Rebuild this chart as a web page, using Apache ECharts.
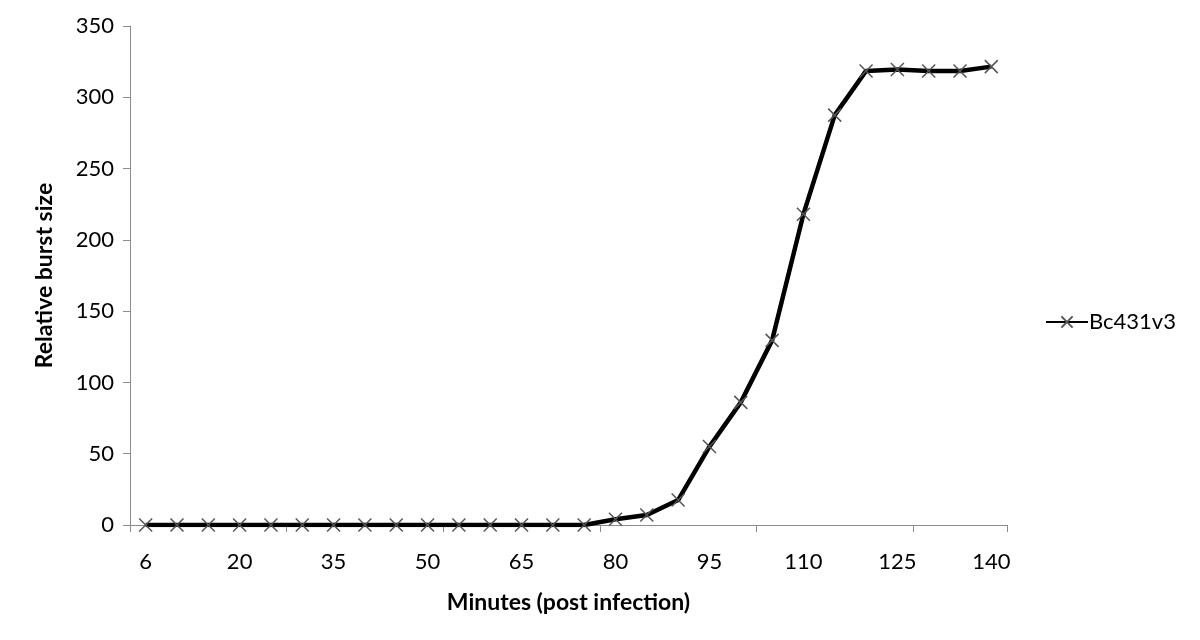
<!DOCTYPE html>
<html>
<head>
<meta charset="utf-8">
<script src="https://cdn.jsdelivr.net/npm/echarts@6/dist/echarts.min.js"></script>
<style>html,body{margin:0;padding:0;background:#fff}#c{width:1200px;height:640px}</style>
</head>
<body>
<div id="c"></div>
<script>
const minutes = [6,10,15,20,25,30,35,40,45,50,55,60,65,70,75,80,85,90,95,100,105,110,115,120,125,130,135,140];
const burstSize = [0,0,0,0,0,0,0,0,0,0,0,0,0,0,0,4,7,17.5,55,86,129.5,218,287.5,318.5,319.5,318.5,318.5,321.5];
const seriesName = 'Bc431v3';
const yTicks = {min: 0, max: 350, interval: 50};

const FONT = 'Lato, "Open Sans", sans-serif';
const chart = echarts.init(document.getElementById('c'));
chart.setOption({
  animation: false,
  backgroundColor: '#fff',
  grid: {left: 130, right: 193, top: 26, bottom: 115},
  legend: {
    data: [seriesName], left: 1040, top: 306, itemWidth: 42, itemHeight: 14, itemGap: 4,
    textStyle: {fontFamily: FONT, fontSize: 22, color: '#000', padding: [0, 0, 0, -4]}
  },
  xAxis: {
    type: 'category', data: minutes, boundaryGap: true,
    name: 'Minutes (post infection)', nameLocation: 'middle', nameGap: 66,
    nameTextStyle: {fontFamily: FONT, fontSize: 23, fontWeight: 'bold', color: '#000'},
    axisLine: {lineStyle: {color: '#8c8c8c', width: 1}},
    axisTick: {show: true, interval: 4, length: 7, lineStyle: {color: '#8c8c8c'}},
    axisLabel: {interval: 2, margin: 26, fontFamily: FONT, fontSize: 22, color: '#000'},
    splitLine: {show: false}
  },
  yAxis: {
    type: 'value', min: yTicks.min, max: yTicks.max, interval: yTicks.interval,
    name: 'Relative burst size', nameLocation: 'middle', nameGap: 74,
    nameTextStyle: {fontFamily: FONT, fontSize: 23, fontWeight: 'bold', color: '#000'},
    axisLine: {show: true, lineStyle: {color: '#8c8c8c', width: 1}},
    axisTick: {show: true, length: 7, lineStyle: {color: '#8c8c8c'}},
    axisLabel: {margin: 16, fontFamily: FONT, fontSize: 22, color: '#000'},
    splitLine: {show: false}
  },
  series: [{
    name: seriesName, type: 'line', data: burstSize,
    lineStyle: {color: '#000', width: 4.5},
    symbol: 'path://M0,0L10,10M10,0L0,10', symbolSize: 13, showAllSymbol: true,
    itemStyle: {color: '#555', borderColor: '#555', borderWidth: 1.5}
  }]
});
</script>
</body>
</html>
